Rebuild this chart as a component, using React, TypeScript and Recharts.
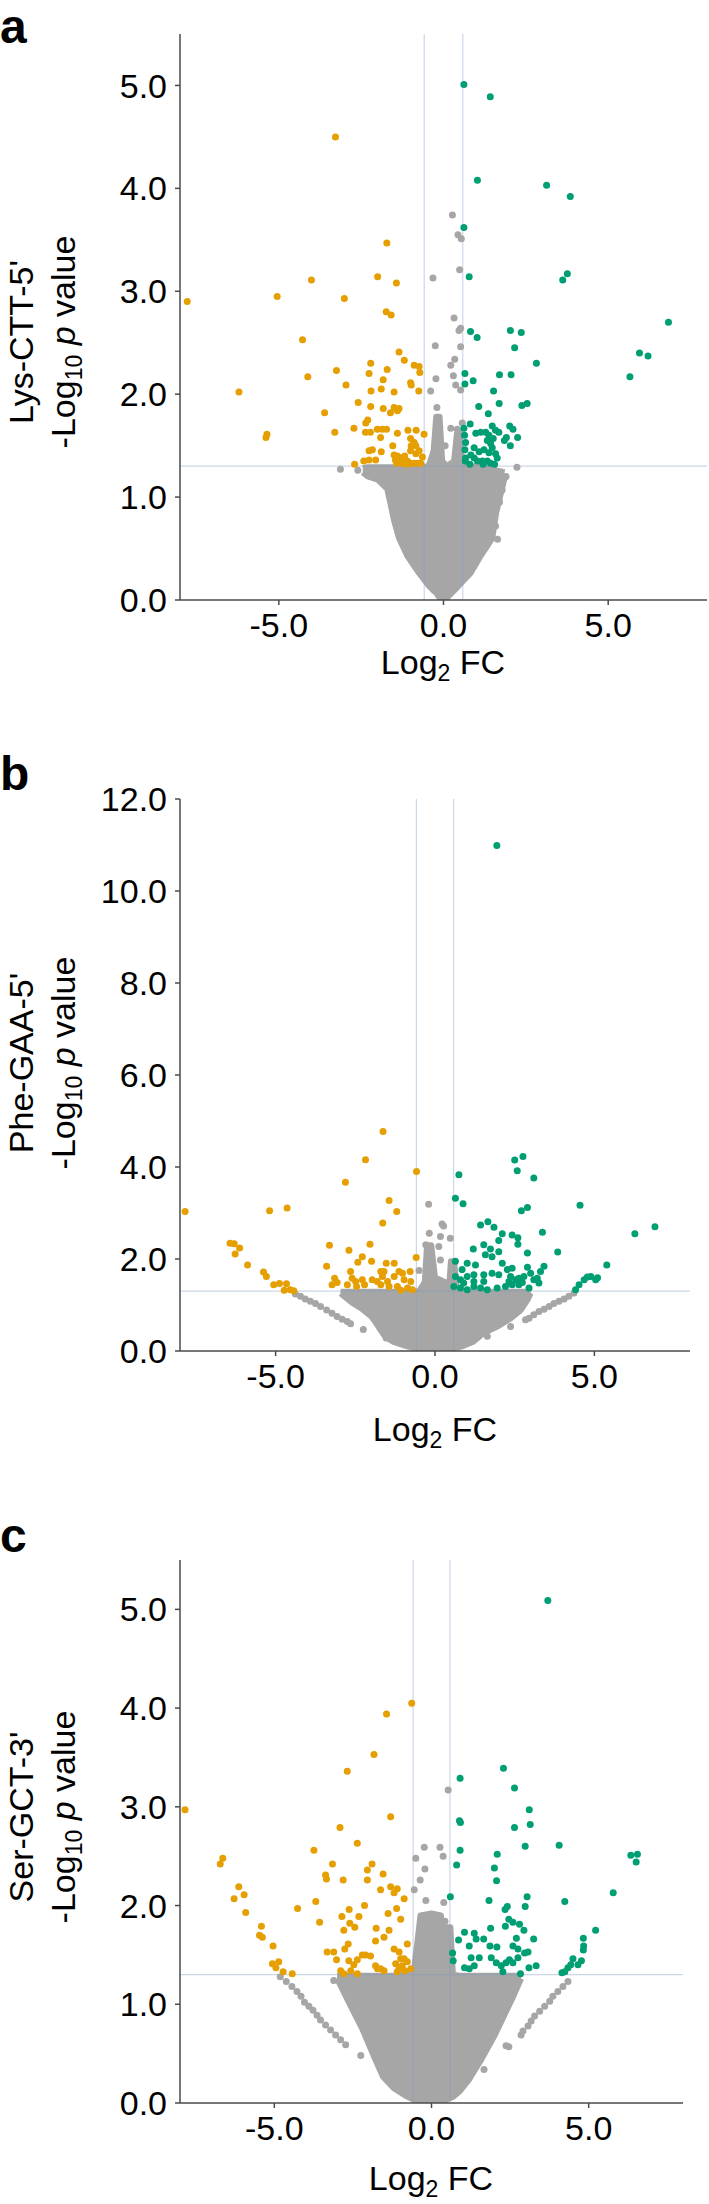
import React from 'react';
import { ComposedChart, Scatter, Area, XAxis, YAxis, ReferenceLine } from 'recharts';

type P = [number, number];
type B = [number, number, number];

const FONT = '"Liberation Sans", Arial, Helvetica, sans-serif';
const ORANGE = '#E69F00';
const GREEN = '#009E73';
const GREY = '#A6A6A6';

const xTicks = [-5, 0, 5];
const yTicksA = [0, 1, 2, 3, 4, 5];
const yTicksB = [0, 2, 4, 6, 8, 10, 12];
const yTicksC = [0, 1, 2, 3, 4, 5];
const fcCut = 0.585;
const pCut = 1.301;

// ---------- Panel a : Lys-CTT-5' ----------
const aDown: P[] = [
  [-7.78, 2.9], [-3.28, 4.5], [-1.72, 3.47], [-2.0, 3.14], [-1.43, 3.08], [-4.01, 3.11], [-5.05, 2.95], [-3.01, 2.93],
  [-1.74, 2.8], [-1.59, 2.77], [-4.28, 2.53], [-6.21, 2.02], [-5.39, 1.58], [-5.36, 1.61], [-4.12, 2.17], [-3.25, 2.23],
  [-2.96, 2.09], [-3.61, 1.82], [-3.3, 1.63], [-2.59, 1.92], [-2.7, 1.32], [-2.21, 2.3], [-2.26, 2.2], [-1.71, 2.24],
  [-1.35, 2.41], [-1.19, 2.33], [-0.89, 2.28], [-0.74, 2.27], [-0.72, 2.21], [-2.2, 2.03], [-1.89, 2.05], [-1.83, 2.14],
  [-1.5, 2.02], [-1.0, 2.11], [-0.98, 2.09], [-0.75, 2.03], [-2.21, 1.88], [-1.83, 1.86], [-1.61, 1.82], [-1.5, 1.87],
  [-1.4, 1.84], [-1.35, 1.86], [-2.36, 1.72], [-2.3, 1.75], [-2.72, 1.67], [-2.37, 1.63], [-2.22, 1.63], [-2.01, 1.66],
  [-1.86, 1.66], [-1.73, 1.66], [-1.91, 1.58], [-1.4, 1.62], [-1.08, 1.65], [-0.83, 1.65], [-0.59, 1.61], [-1.0, 1.57],
  [-0.89, 1.53], [-0.98, 1.5], [-0.84, 1.5], [-1.54, 1.5], [-1.89, 1.44], [-2.26, 1.45], [-2.16, 1.46], [-2.42, 1.35],
  [-2.26, 1.36], [-2.06, 1.36], [-1.5, 1.41], [-1.4, 1.4], [-1.3, 1.38], [-1.18, 1.4], [-1.1, 1.35], [-1.42, 1.33],
  [-1.27, 1.33], [-1.0, 1.33], [-0.89, 1.33], [-0.79, 1.33], [-0.69, 1.33], [-0.84, 1.42], [-0.74, 1.45], [-1.0, 1.45],
  [-0.64, 1.39], [-1.46, 1.36], [-1.12, 1.32],
];
const aUp: P[] = [
  [0.62, 5.01], [1.42, 4.89], [1.03, 4.08], [3.13, 4.03], [3.85, 3.92], [0.62, 3.62], [0.78, 3.14], [3.76, 3.17],
  [3.62, 3.11], [6.83, 2.7], [5.95, 2.4], [6.21, 2.37], [5.66, 2.17], [0.82, 2.61], [1.02, 2.55], [2.03, 2.62],
  [2.36, 2.6], [2.16, 2.45], [2.82, 2.3], [0.65, 2.2], [0.65, 2.1], [0.9, 2.13], [1.7, 2.19], [2.05, 2.19],
  [1.52, 2.03], [1.69, 1.91], [1.07, 1.88], [1.36, 1.81], [2.38, 1.89], [2.54, 1.91], [0.81, 1.71], [0.62, 1.67],
  [0.64, 1.6], [0.67, 1.53], [0.65, 1.46], [0.67, 1.38], [0.66, 1.35], [0.98, 1.62], [1.13, 1.63], [1.28, 1.63],
  [1.38, 1.6], [1.48, 1.69], [1.58, 1.65], [1.68, 1.63], [2.01, 1.69], [2.11, 1.66], [2.25, 1.58], [1.91, 1.58],
  [2.03, 1.5], [1.85, 1.55], [0.93, 1.48], [1.08, 1.44], [1.23, 1.46], [1.38, 1.43], [1.48, 1.48], [1.58, 1.42],
  [1.63, 1.38], [0.93, 1.38], [1.03, 1.35], [1.18, 1.35], [1.33, 1.35], [1.43, 1.33], [0.83, 1.41], [1.33, 1.55],
  [1.43, 1.52], [1.51, 1.57], [0.8, 1.32], [1.2, 1.32], [1.55, 1.32],
];
const aGrey: P[] = [
  [0.27, 3.74], [0.44, 3.55], [0.54, 3.51], [0.49, 3.21], [-0.32, 3.13], [0.32, 2.74], [0.47, 2.62], [0.52, 2.64],
  [-0.25, 2.47], [0.52, 2.46], [0.34, 2.34], [0.22, 2.28], [0.3, 2.18], [0.37, 2.09], [0.52, 2.04], [-0.23, 2.15],
  [-0.39, 2.03], [-0.2, 1.87], [0.57, 1.72], [0.22, 1.67], [0.42, 1.66], [2.23, 1.29], [-3.13, 1.27], [1.58, 0.72],
  [1.64, 0.59], [1.78, 1.07], [1.9, 1.2], [-0.15, 1.6], [0.05, 1.5], [-2.6, 1.26], [1.7, 0.95],
];
const aCloud: B[] = [
  [-2.45, 1.24, 1.28], [-2.3, 1.2, 1.29], [-2.0, 1.17, 1.29], [-1.71, 1.08, 1.29], [-1.61, 0.94, 1.29],
  [-1.5, 0.77, 1.29], [-1.35, 0.6, 1.29], [-1.1, 0.43, 1.29], [-0.74, 0.26, 1.29], [-0.45, 0.14, 1.3],
  [-0.3, 0.09, 1.45], [-0.22, 0.07, 1.78], [-0.12, 0.02, 1.78], [-0.04, 0, 1.35], [0.1, 0.02, 1.3],
  [0.32, 0.09, 1.35], [0.41, 0.12, 1.62], [0.49, 0.15, 1.62], [0.58, 0.18, 1.3], [0.82, 0.26, 1.3],
  [1.13, 0.43, 1.3], [1.48, 0.6, 1.28], [1.6, 0.85, 1.26], [1.75, 1.05, 1.25], [1.85, 1.18, 1.24],
];

// ---------- Panel b : Phe-GAA-5' ----------
const bDown: P[] = [
  [-7.84, 3.03], [-1.63, 4.77], [-2.18, 4.16], [-2.81, 3.67], [-0.58, 3.9], [-5.19, 3.05], [-4.64, 3.11], [-1.44, 3.27],
  [-1.2, 3.03], [-1.64, 2.78], [-6.43, 2.34], [-6.3, 2.33], [-6.13, 2.24], [-6.27, 2.11], [-5.88, 1.87], [-5.38, 1.72],
  [-5.29, 1.62], [-5.06, 1.44], [-4.88, 1.47], [-4.66, 1.46], [-4.73, 1.32], [-4.54, 1.33], [-4.43, 1.31], [-3.31, 2.3],
  [-2.7, 2.19], [-2.04, 2.32], [-3.4, 1.84], [-2.42, 1.93], [-2.28, 2.05], [-1.99, 1.95], [-1.53, 1.91], [-1.28, 1.91],
  [-0.59, 2.03], [-3.15, 1.58], [-3.07, 1.49], [-3.23, 1.44], [-2.65, 1.73], [-2.6, 1.58], [-2.49, 1.51], [-2.75, 1.44],
  [-2.28, 1.55], [-2.21, 1.44], [-2.46, 1.4], [-1.97, 1.55], [-1.81, 1.51], [-1.7, 1.73], [-1.6, 1.73], [-1.65, 1.62],
  [-1.28, 1.62], [-1.13, 1.73], [-1.02, 1.69], [-0.78, 1.73], [-0.97, 1.55], [-0.76, 1.51], [-1.18, 1.4], [-1.44, 1.4],
  [-0.86, 1.37], [-0.71, 1.33], [-1.7, 1.44], [-1.49, 1.51], [-1.07, 1.32],
];
const bUp: P[] = [
  [1.94, 10.99], [0.75, 3.83], [0.64, 3.32], [0.88, 3.2], [2.5, 4.15], [2.76, 4.23], [2.58, 3.92], [3.1, 3.76],
  [2.71, 3.05], [2.9, 3.12], [4.55, 3.17], [6.27, 2.55], [6.9, 2.7], [1.43, 2.74], [1.66, 2.81], [1.85, 2.69],
  [2.11, 2.55], [2.0, 2.4], [1.74, 2.22], [1.53, 2.31], [1.2, 2.22], [2.42, 2.52], [2.6, 2.46], [2.6, 2.32],
  [3.37, 2.58], [2.9, 2.13], [3.85, 2.15], [5.39, 1.87], [2.0, 2.16], [1.79, 2.05], [1.58, 2.09], [2.11, 1.91],
  [2.42, 1.8], [2.27, 1.77], [2.9, 1.82], [3.42, 1.84], [3.31, 1.73], [0.64, 1.95], [1.01, 1.91], [1.27, 1.87],
  [0.85, 1.77], [1.53, 1.66], [1.79, 1.69], [1.22, 1.66], [1.01, 1.62], [0.8, 1.55], [0.64, 1.62], [2.0, 1.66],
  [2.37, 1.62], [2.63, 1.58], [2.79, 1.62], [3.0, 1.69], [3.1, 1.55], [3.26, 1.48], [3.21, 1.58], [0.59, 1.4],
  [0.8, 1.37], [1.01, 1.33], [1.22, 1.4], [1.43, 1.37], [1.64, 1.33], [1.95, 1.37], [2.21, 1.4], [2.42, 1.44],
  [2.63, 1.44], [2.95, 1.37], [1.53, 1.51], [1.22, 1.51], [0.9, 1.48], [2.32, 1.51], [2.53, 1.55], [2.74, 1.49],
  [4.41, 1.33], [4.52, 1.44], [4.68, 1.55], [4.78, 1.61], [4.89, 1.62], [5.1, 1.59], [5.04, 1.55],
];
const bGrey: P[] = [
  [-0.2, 3.19], [0.22, 2.76], [0.27, 2.72], [-0.18, 2.56], [0.17, 2.49], [0.48, 2.45], [-0.29, 2.31], [0.12, 2.27],
  [-0.23, 2.13], [-0.18, 1.91], [-0.5, 1.75], [0.17, 1.98],
  [-4.38, 1.24], [-4.22, 1.19], [-4.07, 1.13], [-3.91, 1.08], [-3.75, 1.03], [-3.59, 0.97], [-3.4, 0.89], [-3.23, 0.82],
  [-3.07, 0.75], [-2.91, 0.69], [-2.75, 0.64], [-2.65, 0.59], [-2.25, 0.47], [-1.53, 0.28],
  [4.36, 1.26], [4.2, 1.19], [4.05, 1.13], [3.89, 1.08], [3.73, 1.03], [3.58, 0.97], [3.42, 0.91], [3.26, 0.86],
  [3.1, 0.79], [2.95, 0.71], [2.84, 0.68], [2.37, 0.53], [1.64, 0.32],
];
const bCloud: B[] = [
  [-2.96, 1.25, 1.29], [-2.6, 1.05, 1.29], [-2.3, 0.92, 1.29], [-2.0, 0.75, 1.29], [-1.9, 0.66, 1.29],
  [-1.7, 0.45, 1.29], [-1.55, 0.3, 1.29], [-1.3, 0.2, 1.29], [-0.87, 0.1, 1.29], [-0.5, 0.03, 1.3],
  [-0.32, 0.02, 1.5], [-0.25, 0.01, 2.3], [-0.12, 0.0, 2.3], [0.0, 0, 1.6], [0.45, 0.02, 1.45],
  [0.5, 0.03, 1.95], [0.6, 0.05, 1.95], [0.68, 0.07, 1.3], [0.84, 0.1, 1.29], [1.2, 0.2, 1.29],
  [1.53, 0.39, 1.29], [1.95, 0.53, 1.29], [2.37, 0.71, 1.29], [2.69, 0.89, 1.29], [2.9, 1.11, 1.29],
  [3.0, 1.26, 1.29],
];

// ---------- Panel c : Ser-GCT-3' ----------
const cDown: P[] = [
  [-7.84, 2.97], [-0.63, 4.05], [-1.43, 3.94], [-1.83, 3.53], [-2.68, 3.36], [-1.3, 2.9], [-2.91, 2.79], [-2.36, 2.63],
  [-3.74, 2.56], [-6.64, 2.48], [-6.72, 2.42], [-3.15, 2.42], [-1.89, 2.42], [-2.04, 2.36], [-3.37, 2.31], [-3.34, 2.27],
  [-2.81, 2.26], [-2.04, 2.26], [-1.54, 2.32], [-1.62, 2.16], [-1.3, 2.19], [-1.19, 2.13], [-1.09, 2.17], [-0.87, 2.07],
  [-6.13, 2.19], [-5.96, 2.11], [-6.28, 2.07], [-5.91, 1.93], [-4.26, 1.97], [-3.68, 2.04], [-3.56, 1.83], [-2.13, 2.0],
  [-2.62, 1.96], [-2.85, 1.89], [-2.31, 1.89], [-2.6, 1.82], [-2.44, 1.78], [-2.79, 1.75], [-1.11, 1.97], [-1.38, 1.92],
  [-0.98, 1.86], [-1.76, 1.77], [-1.35, 1.75], [-1.51, 1.68], [-1.78, 1.64], [-5.41, 1.79], [-5.47, 1.7], [-5.38, 1.68],
  [-5.04, 1.59], [-5.06, 1.41], [-4.86, 1.43], [-4.95, 1.37], [-4.72, 1.33], [-4.43, 1.31], [-3.32, 1.53], [-3.11, 1.53],
  [-3.02, 1.45], [-2.65, 1.61], [-2.76, 1.56], [-2.63, 1.44], [-2.36, 1.45], [-2.2, 1.5], [-2.1, 1.5], [-1.94, 1.49],
  [-2.47, 1.4], [-2.57, 1.34], [-2.89, 1.34], [-2.79, 1.31], [-2.36, 1.31], [-1.19, 1.56], [-1.03, 1.53], [-0.77, 1.61],
  [-0.98, 1.46], [-1.14, 1.41], [-0.93, 1.39], [-0.77, 1.43], [-0.66, 1.36], [-1.09, 1.33], [-1.62, 1.36], [-1.72, 1.36],
  [-1.51, 1.34], [-0.85, 1.34], [-1.78, 1.39], [-1.03, 1.36], [-0.87, 1.46],
];
const cUp: P[] = [
  [3.7, 5.09], [2.29, 3.39], [0.91, 3.29], [2.64, 3.19], [0.89, 2.86], [0.92, 2.84], [3.11, 2.97], [3.14, 2.82],
  [2.64, 2.79], [2.98, 2.6], [4.06, 2.61], [0.91, 2.56], [0.8, 2.41], [2.09, 2.52], [2.0, 2.38], [2.07, 2.25],
  [6.34, 2.51], [6.55, 2.52], [6.51, 2.44], [5.78, 2.13], [0.6, 2.09], [1.83, 2.05], [3.04, 2.09], [2.98, 1.99],
  [4.24, 2.04], [2.41, 1.99], [2.34, 1.96], [2.46, 1.86], [2.59, 1.83], [2.8, 1.81], [2.94, 1.75], [2.35, 1.79],
  [1.88, 1.77], [5.22, 1.75], [1.05, 1.73], [1.36, 1.72], [1.66, 1.66], [1.42, 1.66], [0.86, 1.65], [2.7, 1.67],
  [3.25, 1.66], [4.83, 1.67], [4.83, 1.55], [4.84, 1.59], [1.2, 1.59], [1.86, 1.59], [2.08, 1.58], [2.59, 1.59],
  [2.75, 1.56], [3.07, 1.53], [2.96, 1.52], [0.67, 1.52], [0.69, 1.44], [1.26, 1.47], [1.52, 1.47], [1.05, 1.37],
  [1.2, 1.36], [1.36, 1.39], [1.9, 1.47], [2.06, 1.42], [2.22, 1.39], [2.37, 1.42], [2.48, 1.45], [2.59, 1.42],
  [2.75, 1.47], [2.27, 1.33], [2.83, 1.31], [3.1, 1.37], [3.33, 1.39], [4.5, 1.46], [4.43, 1.4], [4.66, 1.4],
  [4.77, 1.44], [4.34, 1.37], [4.24, 1.33], [4.15, 1.32],
];
const cGrey: P[] = [
  [0.53, 3.17], [-0.23, 2.59], [0.27, 2.59], [0.37, 2.5], [-0.21, 2.37], [0.39, 2.03], [0.43, 1.84], [-0.5, 2.48],
  [-0.36, 2.26], [-0.55, 2.16], [-0.18, 2.05], [-3.11, 1.24], [-2.25, 0.48], [-1.52, 0.29], [2.46, 0.57], [1.67, 0.34],
  [-4.81, 1.28], [-4.62, 1.23], [-4.44, 1.18], [-4.28, 1.13], [-4.15, 1.08], [-4.04, 1.02], [-3.9, 0.98], [-3.77, 0.94],
  [-3.64, 0.89], [-3.53, 0.84], [-3.37, 0.79], [-3.21, 0.74], [-3.05, 0.69], [-2.89, 0.64], [-2.73, 0.59],
  [4.34, 1.23], [4.18, 1.18], [4.02, 1.13], [3.86, 1.08], [3.76, 1.03], [3.6, 0.98], [3.44, 0.93], [3.28, 0.88],
  [3.17, 0.83], [3.07, 0.78], [2.91, 0.73], [2.85, 0.69], [2.37, 0.58],
];
const cCloud: B[] = [
  [-3.0, 1.26, 1.29], [-2.6, 1.0, 1.29], [-2.2, 0.75, 1.29], [-2.0, 0.6, 1.29], [-1.8, 0.45, 1.29],
  [-1.55, 0.27, 1.29], [-1.2, 0.15, 1.29], [-0.8, 0.07, 1.3], [-0.55, 0.03, 1.35], [-0.35, 0.02, 1.9],
  [0, 0, 1.92], [0.3, 0.01, 1.9], [0.38, 0.02, 1.4], [0.45, 0.03, 1.78], [0.6, 0.05, 1.78],
  [0.68, 0.06, 1.3], [0.9, 0.12, 1.29], [1.2, 0.24, 1.29], [1.6, 0.45, 1.29], [2.0, 0.68, 1.29],
  [2.3, 0.88, 1.29], [2.6, 1.08, 1.29], [2.85, 1.26, 1.29],
];

const toPts = (arr: P[]) => arr.map(([x, y]) => ({ x, y }));
const toBand = (arr: B[]) => arr.map(([x, lo, hi]) => ({ x, band: [lo, hi] }));

const makeDot = (color: string) => (props: any) => {
  if (props.cx == null || props.cy == null) return <g />;
  return <circle cx={props.cx} cy={props.cy} r={3.5} fill={color} />;
};
const greyDot = makeDot(GREY);
const orangeDot = makeDot(ORANGE);
const greenDot = makeDot(GREEN);

const AXIS = '#4a4a4a';
const REF = '#7f9cc0';
const FS = 34;

interface PanelProps {
  top: number;
  height: number;
  plotTop: number;
  rightMargin: number;
  yMax: number;
  yTicks: number[];
  cloud: B[];
  grey: P[];
  down: P[];
  up: P[];
}

function Panel(p: PanelProps) {
  const tickStyle = { fill: '#000', fontSize: FS, fontFamily: FONT };
  return (
    <div style={{ position: 'absolute', left: 0, top: p.top }}>
      <ComposedChart
        width={709}
        height={p.height}
        data={toBand(p.cloud)}
        margin={{ top: p.plotTop, right: p.rightMargin, bottom: 0, left: 0 }}
      >
        <XAxis
          type="number"
          dataKey="x"
          domain={[-8, 8]}
          ticks={xTicks}
          allowDataOverflow
          tickFormatter={(v: number) => v.toFixed(1)}
          height={70}
          tickSize={5}
          tickMargin={8}
          stroke={AXIS}
          strokeWidth={1.5}
          tick={tickStyle}
        />
        <YAxis
          type="number"
          dataKey="y"
          domain={[0, p.yMax]}
          ticks={p.yTicks}
          allowDataOverflow
          tickFormatter={(v: number) => v.toFixed(1)}
          width={180}
          tickSize={5}
          tickMargin={8}
          stroke={AXIS}
          strokeWidth={1.5}
          tick={tickStyle}
        />
        <Area
          dataKey="band"
          type="linear"
          fill={GREY}
          fillOpacity={1}
          stroke={GREY}
          strokeWidth={6}
          strokeLinejoin="round"
          dot={false}
          activeDot={false}
          isAnimationActive={false}
        />
        <Scatter data={toPts(p.grey)} shape={greyDot} isAnimationActive={false} />
        <ReferenceLine x={-fcCut} stroke={REF} strokeOpacity={0.4} strokeWidth={1.2} />
        <ReferenceLine x={fcCut} stroke={REF} strokeOpacity={0.4} strokeWidth={1.2} />
        <ReferenceLine y={pCut} stroke={REF} strokeOpacity={0.4} strokeWidth={1.2} />
        <Scatter data={toPts(p.down)} shape={orangeDot} isAnimationActive={false} />
        <Scatter data={toPts(p.up)} shape={greenDot} isAnimationActive={false} />
      </ComposedChart>
    </div>
  );
}

function YTitle({ cy, name }: { cy: number; name: string }) {
  return (
    <g fontFamily={FONT} fontSize={FS} fill="#000">
      <text x={33} y={cy} transform={`rotate(-90 33 ${cy})`} textAnchor="middle">
        {name}
      </text>
      <text x={75} y={cy} transform={`rotate(-90 75 ${cy})`} textAnchor="middle">
        <tspan>-Log</tspan>
        <tspan fontSize={23} dy={7}>10</tspan>
        <tspan dy={-7}> </tspan>
        <tspan fontStyle="italic">p</tspan>
        <tspan> value</tspan>
      </text>
    </g>
  );
}

function XTitle({ cx, y }: { cx: number; y: number }) {
  return (
    <text x={cx} y={y} textAnchor="middle" fontFamily={FONT} fontSize={FS} fill="#000">
      <tspan>Log</tspan>
      <tspan fontSize={23} dy={7}>2</tspan>
      <tspan dy={-7}> FC</tspan>
    </text>
  );
}

export default function App() {
  return (
    <div style={{ position: 'absolute', left: 0, top: 0, width: 709, height: 2204, background: '#fff' }}>
      <Panel top={0} height={670} plotTop={34} rightMargin={2} yMax={5.5} yTicks={yTicksA}
        cloud={aCloud} grey={aGrey} down={aDown} up={aUp} />
      <Panel top={760} height={661} plotTop={39} rightMargin={19} yMax={12} yTicks={yTicksB}
        cloud={bCloud} grey={bGrey} down={bDown} up={bUp} />
      <Panel top={1520} height={653} plotTop={40} rightMargin={26} yMax={5.5} yTicks={yTicksC}
        cloud={cCloud} grey={cGrey} down={cDown} up={cUp} />
      <svg width={709} height={2204} style={{ position: 'absolute', left: 0, top: 0, pointerEvents: 'none' }}>
        <g fontFamily={FONT} fontSize={48} fontWeight="bold" fill="#000">
          <text x={0} y={43}>a</text>
          <text x={0} y={790}>b</text>
          <text x={0} y={1552}>c</text>
        </g>
        <YTitle cy={342} name="Lys-CTT-5'" />
        <YTitle cy={1063} name="Phe-GAA-5'" />
        <YTitle cy={1817} name="Ser-GCT-3'" />
        <XTitle cx={443} y={674} />
        <XTitle cx={435} y={1441} />
        <XTitle cx={431} y={2190} />
      </svg>
    </div>
  );
}
